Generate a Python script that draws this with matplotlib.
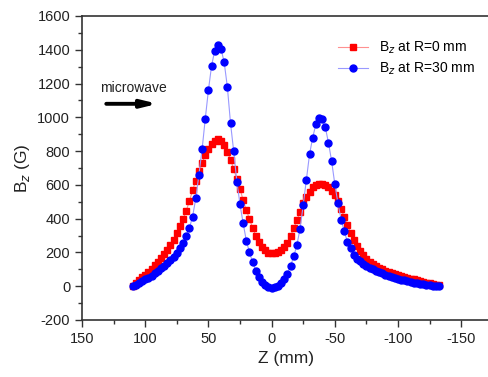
import numpy as np
import matplotlib.pyplot as plt
from matplotlib.ticker import MultipleLocator

plt.rcParams['font.family'] = ['Liberation Sans', 'DejaVu Sans']
plt.rcParams['axes.unicode_minus'] = False

# axial position (mm), same grid for both series
z_mm = [110, 107.5, 105, 102.5, 100, 97.5, 95, 92.5, 90, 87.5,
        85, 82.5, 80, 77.5, 75, 72.5, 70, 67.5, 65, 62.5,
        60, 57.5, 55, 52.5, 50, 47.5, 45, 42.5, 40, 37.5,
        35, 32.5, 30, 27.5, 25, 22.5, 20, 17.5, 15, 12.5,
        10, 7.5, 5, 2.5, 0, -2.5, -5, -7.5, -10, -12.5,
        -15, -17.5, -20, -22.5, -25, -27.5, -30, -32.5, -35, -37.5,
        -40, -42.5, -45, -47.5, -50, -52.5, -55, -57.5, -60, -62.5,
        -65, -67.5, -70, -72.5, -75, -77.5, -80, -82.5, -85, -87.5,
        -90, -92.5, -95, -97.5, -100, -102.5, -105, -107.5, -110, -112.5,
        -115, -117.5, -120, -122.5, -125, -127.5, -130, -132.5]

# Bz on axis (R=0)
bz_r0 = [0, 17, 35, 52, 69, 86, 104, 124, 145, 166,
         189, 214, 243, 276, 318, 358, 400, 447, 505, 568,
         625, 680, 728, 778, 815, 842, 862, 871, 862, 835,
         795, 750, 695, 635, 578, 508, 450, 398, 345, 300,
         263, 233, 213, 199, 194, 197, 203, 214, 232, 257,
         296, 344, 390, 440, 493, 530, 560, 585, 600, 605,
         604, 597, 585, 565, 540, 503, 460, 408, 362, 313,
         272, 236, 207, 182, 160, 145, 132, 120, 110, 101,
         93, 85, 78, 71, 65, 58, 53, 48, 44, 40,
         36, 31, 27, 22, 18, 14, 9, 5]

# Bz at R=30 mm
bz_r30 = [0, 7, 17, 28, 40, 50, 62, 76, 91, 105,
          120, 137, 154, 172, 194, 224, 258, 297, 345, 412,
          520, 660, 810, 990, 1160, 1305, 1395, 1430, 1405, 1325,
          1180, 965, 800, 620, 485, 372, 270, 200, 142, 92,
          55, 27, 8, -3, -10, -6, 2, 18, 42, 75,
          120, 176, 243, 340, 480, 630, 780, 880, 958, 995,
          990, 940, 850, 740, 605, 490, 395, 325, 262, 224,
          186, 163, 147, 132, 120, 109, 100, 91, 83, 76,
          68, 62, 56, 50, 44, 39, 34, 29, 25, 21,
          17, 14, 11, 8, 6, 4, 2, 0]

fig = plt.figure(figsize=(4.89, 3.77), dpi=100)
ax = fig.add_axes([0.1677, 0.1512, 0.8323, 0.8064])

ax.plot(z_mm, bz_r0, color='#ff9090', lw=0.8, marker='s', ms=4.3,
        mfc='#ff0000', mec='#ff0000', label=r'B$_z$ at R=0 mm')
ax.plot(z_mm, bz_r30, color='#9999ff', lw=0.8, marker='o', ms=5,
        mfc='#0000ff', mec='#0000ff', label=r'B$_z$ at R=30 mm')

ax.set_xlim(150, -172)
ax.set_ylim(-200, 1600)
ax.set_xticks([150, 100, 50, 0, -50, -100, -150])
ax.set_yticks(np.arange(-200, 1601, 200))
ax.xaxis.set_minor_locator(MultipleLocator(25))
ax.yaxis.set_minor_locator(MultipleLocator(100))
ax.tick_params(which='major', direction='out', length=5, width=1, colors='#333333',
               labelcolor='#222222', labelsize=10.5)
ax.tick_params(which='minor', direction='out', length=3, width=1, colors='#333333')
ax.spines['right'].set_visible(False)
for s in ['left', 'bottom', 'top']:
    ax.spines[s].set_color('#333333')
    ax.spines[s].set_linewidth(1.2)

ax.set_xlabel('Z (mm)', fontsize=12.5, color='#222222')
ax.set_ylabel(r'B$_z$ (G)', fontsize=12.5, color='#222222')

ax.text(135.5, 1175, 'microwave', fontsize=10, color='#222222', va='center')
ax.annotate('', xy=(88, 1080), xytext=(133, 1080),
            arrowprops=dict(arrowstyle='-|>,head_length=0.9,head_width=0.22',
                            color='black', lw=2.8))

ax.legend(loc='upper right', bbox_to_anchor=(0.99, 0.955), frameon=False,
          fontsize=10, handlelength=2.2, borderpad=0.2, labelspacing=0.35)

fig.savefig('out.png', dpi=100)
